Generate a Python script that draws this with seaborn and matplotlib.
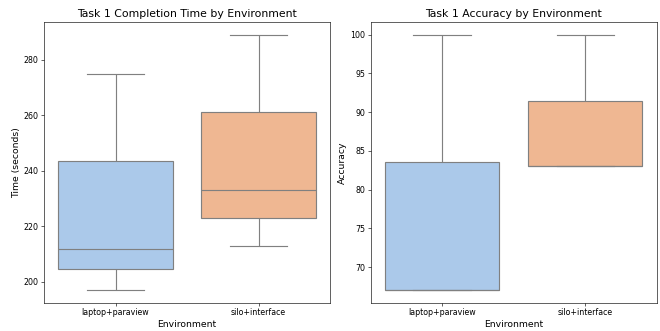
import matplotlib
matplotlib.use("Agg")
import matplotlib.pyplot as plt
import seaborn as sns
import pandas as pd

environments = ["laptop+paraview", "silo+interface"]
time_laptop = [197, 212, 275]
time_silo = [213, 233, 289]
acc_laptop = [67, 67, 100]
acc_silo = [83, 83, 100]

df = pd.DataFrame({
    "Environment": [environments[0]] * len(time_laptop) + [environments[1]] * len(time_silo),
    "Time": time_laptop + time_silo,
    "Accuracy": acc_laptop + acc_silo,
})

fig, axes = plt.subplots(1, 2, figsize=(12, 6.02), dpi=55)
fig.subplots_adjust(left=0.0667, right=0.995, top=0.9335, bottom=0.0846, wspace=0.141)
pal = sns.color_palette("pastel")[:2]

sns.boxplot(data=df, x="Environment", y="Time", hue="Environment", palette=pal,
            order=environments, legend=False, ax=axes[0], linewidth=1.5, linecolor="0.5")
axes[0].set_title("Task 1 Completion Time by Environment", fontsize=14.3)
axes[0].set_ylabel("Time (seconds)", fontsize=12.2)
axes[0].set_xlabel("Environment", fontsize=12.2)

sns.boxplot(data=df, x="Environment", y="Accuracy", hue="Environment", palette=pal,
            order=environments, legend=False, ax=axes[1], linewidth=1.5, linecolor="0.5")
axes[1].set_title("Task 1 Accuracy by Environment", fontsize=14.3)
axes[1].set_ylabel("Accuracy", fontsize=12.2)
axes[1].set_xlabel("Environment", fontsize=12.2)

for ax in axes:
    ax.tick_params(labelsize=10.3)

fig.savefig("out.png", dpi=55)
